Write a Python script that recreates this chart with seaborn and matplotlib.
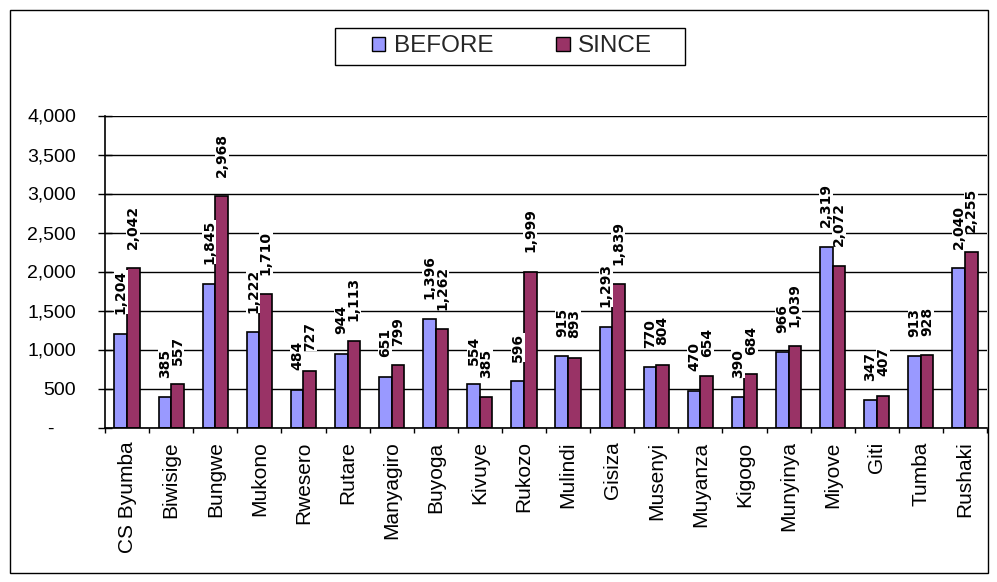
import matplotlib
matplotlib.use("Agg")
import matplotlib.pyplot as plt
import numpy as np
import pandas as pd
import seaborn as sns
from matplotlib.patches import Patch, Rectangle
from matplotlib.ticker import FuncFormatter

# Health centres and patient counts for the two periods
sites = ["CS Byumba", "Biwisige", "Bungwe", "Mukono", "Rwesero", "Rutare",
         "Manyagiro", "Buyoga", "Kivuye", "Rukozo", "Mulindi", "Gisiza",
         "Musenyi", "Muyanza", "Kigogo", "Munyinya", "Miyove", "Giti",
         "Tumba", "Rushaki"]
before = [1204, 385, 1845, 1222, 484, 944, 651, 1396, 554, 596,
          915, 1293, 770, 470, 390, 966, 2319, 347, 913, 2040]
since = [2042, 557, 2968, 1710, 727, 1113, 799, 1262, 385, 1999,
         893, 1839, 804, 654, 684, 1039, 2072, 407, 928, 2255]
periods = ["BEFORE", "SINCE"]
colors = ["#9999FF", "#993366"]
yticks = [0, 500, 1000, 1500, 2000, 2500, 3000, 3500, 4000]

df = pd.DataFrame({
    "site": sites * 2,
    "count": before + since,
    "period": [periods[0]] * len(sites) + [periods[1]] * len(sites),
})

sns.set_theme(style="white")
plt.rcParams["font.family"] = ["Liberation Sans", "DejaVu Sans"]

W, H = 997, 582
fig = plt.figure(figsize=(W / 100, H / 100), dpi=100)
fig.patch.set_facecolor("white")
ax = fig.add_axes([105 / W, 1 - 427.5 / H, (987 - 105) / W, (427.5 - 115.5) / H])

sns.barplot(data=df, x="site", y="count", hue="period", hue_order=periods,
            palette=colors, saturation=1, width=0.57, gap=0,
            edgecolor="black", linewidth=1.2, errorbar=None,
            legend=False, ax=ax)

ax.set_xlim(-0.5, len(sites) - 0.5)
ax.set_ylim(yticks[0], yticks[-1])
ax.set_xlabel("")
ax.set_ylabel("")

# horizontal gridlines behind the bars
ax.set_axisbelow(True)
ax.yaxis.grid(True, color="black", linewidth=1.0)
ax.xaxis.grid(False)

for side in ("top", "right"):
    ax.spines[side].set_visible(False)
for side in ("left", "bottom"):
    ax.spines[side].set_color("black")
    ax.spines[side].set_linewidth(1.2)

# y axis: thousands separator, dash for zero
ax.set_yticks(yticks)
ax.yaxis.set_major_formatter(FuncFormatter(
    lambda v, _: "-    " if v == 0 else f"{int(v):,}"))
ax.tick_params(axis="y", left=True, direction="inout", length=9.4,
               width=1, color="black", pad=16, labelsize=14,
               labelcolor="black")

# x axis: labels at category centres, tick marks between categories
ax.set_xticks(np.arange(len(sites)))
ax.set_xticklabels(sites, rotation=90)
ax.set_xticks(np.arange(-0.5, len(sites)), minor=True)
ax.tick_params(axis="x", which="major", bottom=True, length=0, pad=10,
               labelsize=15, labelcolor="black")
ax.tick_params(axis="x", which="minor", bottom=True, direction="out",
               length=3.6, width=1, color="black")

# value labels above each bar
for container, vals in zip(ax.containers, [before, since]):
    for bar, v in zip(container, vals):
        ax.annotate(f"{v:,}",
                    (bar.get_x() + bar.get_width() / 2, bar.get_height()),
                    xytext=(0, 14), textcoords="offset points",
                    rotation=90, ha="center", va="bottom",
                    fontsize=10, fontweight="bold", family="DejaVu Sans",
                    color="black",
                    bbox=dict(boxstyle="square,pad=0.0", fc="white", ec="none"))

# legend with its own rectangular frame
handles = [Patch(facecolor=c, edgecolor="black", linewidth=1) for c in colors]
fig.legend(handles, periods, loc="center",
           bbox_to_anchor=(512 / W, 1 - 46.5 / H), ncol=2, frameon=False,
           fontsize=17.5, handlelength=0.55, handleheight=0.55,
           handletextpad=0.35, columnspacing=2.6)
fig.add_artist(Rectangle((335 / W, 1 - 65 / H), 350 / W, 37 / H,
                         transform=fig.transFigure, fill=False,
                         edgecolor="black", linewidth=1))

# outer chart frame
fig.add_artist(Rectangle((10 / W, 1 - 573 / H), 978 / W, 563 / H,
                         transform=fig.transFigure, fill=False,
                         edgecolor="black", linewidth=1))

fig.savefig("out.png", dpi=100)
